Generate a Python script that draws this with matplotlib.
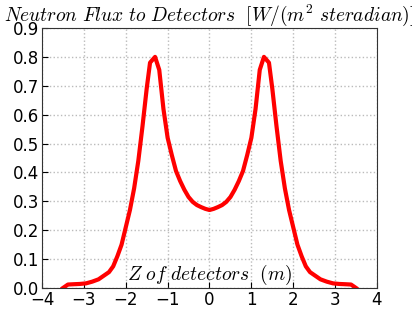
import numpy as np
import matplotlib
matplotlib.use('Agg')
import matplotlib.pyplot as plt

plt.rcParams['mathtext.fontset'] = 'cm'

# detector position (m) and flux values
z = [-3.50, -3.38, -3.25, -3.10, -2.95, -2.80, -2.65, -2.50, -2.40, -2.30,
     -2.20, -2.10, -2.00, -1.90, -1.80, -1.70, -1.60, -1.50, -1.42, -1.30,
     -1.20, -1.10, -1.00, -0.90, -0.80, -0.70, -0.60, -0.50, -0.40, -0.30,
     -0.20, -0.10, 0.00,
     0.10, 0.20, 0.30, 0.40, 0.50, 0.60, 0.70, 0.80, 0.90, 1.00,
     1.10, 1.20, 1.30, 1.42, 1.50, 1.60, 1.70, 1.80, 1.90, 2.00,
     2.10, 2.20, 2.30, 2.40, 2.50, 2.65, 2.80, 2.95, 3.10, 3.25,
     3.38, 3.50]
flux = [0.000, 0.012, 0.013, 0.014, 0.016, 0.022, 0.030, 0.045, 0.055, 0.075,
        0.110, 0.150, 0.210, 0.270, 0.345, 0.440, 0.560, 0.690, 0.780, 0.800,
        0.755, 0.620, 0.520, 0.460, 0.405, 0.370, 0.340, 0.315, 0.298, 0.287,
        0.280, 0.274, 0.270,
        0.274, 0.280, 0.287, 0.298, 0.315, 0.340, 0.370, 0.405, 0.460, 0.520,
        0.620, 0.755, 0.800, 0.780, 0.690, 0.560, 0.440, 0.345, 0.270, 0.210,
        0.150, 0.110, 0.075, 0.055, 0.045, 0.030, 0.022, 0.016, 0.014, 0.013,
        0.012, 0.000]

xticks = [-4, -3, -2, -1, 0, 1, 2, 3, 4]
yticks = [0.0, 0.1, 0.2, 0.3, 0.4, 0.5, 0.6, 0.7, 0.8, 0.9]

fig = plt.figure(figsize=(4.12, 3.10), dpi=100)
ax = fig.add_axes([42/412, 22/310, 335/412, 260/310])

ax.plot(z, flux, color='red', linewidth=3)

ax.set_xlim(-4, 4)
ax.set_ylim(0, 0.9)
ax.set_xticks(xticks)
ax.set_xticklabels([str(t).replace('-', '\u2212') for t in xticks])
ax.set_yticks(yticks)
ax.set_yticklabels(['%.1f' % t for t in yticks])
ax.tick_params(labelsize=12, length=4, direction='in', pad=2)
ax.grid(True, color='#bbbbbb', linestyle=':', linewidth=1)
for s in ax.spines.values():
    s.set_color('#333333')

ax.set_title(r'$Neutron\ Flux\ to\ Detectors\ \ [W/(m^2\ steradian)]$',
             fontsize=14, pad=4)
ax.text(0.5, 0.004, r'$Z\ of\ detectors\ \ (m)$', transform=ax.transAxes,
        ha='center', va='bottom', fontsize=14)

fig.savefig('out.png', dpi=100)
